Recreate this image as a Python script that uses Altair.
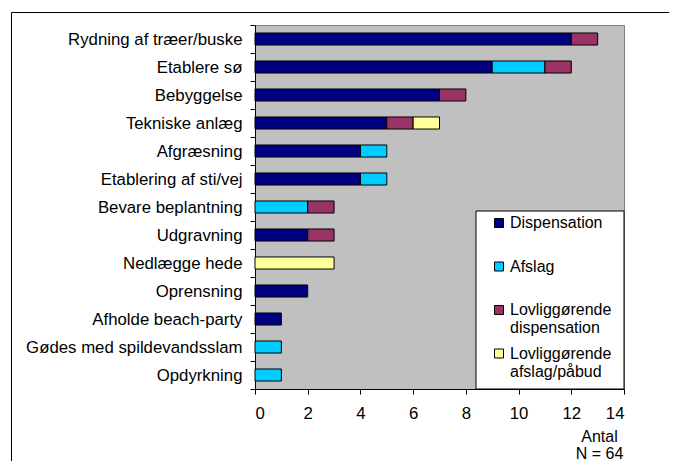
import altair as alt
import pandas as pd

categories = ["Rydning af træer/buske", "Etablere sø", "Bebyggelse", "Tekniske anlæg",
              "Afgræsning", "Etablering af sti/vej", "Bevare beplantning", "Udgravning",
              "Nedlægge hede", "Oprensning", "Afholde beach-party",
              "Gødes med spildevandsslam", "Opdyrkning"]
series = ["Dispensation", "Afslag", "Lovliggørende dispensation", "Lovliggørende afslag/påbud"]
dispensation = [12, 9, 7, 5, 4, 4, 0, 2, 0, 2, 1, 0, 0]
afslag = [0, 2, 0, 0, 1, 1, 2, 0, 0, 0, 0, 1, 1]
lovl_disp = [1, 1, 1, 1, 0, 0, 1, 1, 0, 0, 0, 0, 0]
lovl_afslag = [0, 0, 0, 1, 0, 0, 0, 0, 3, 0, 0, 0, 0]
colors = ["#000080", "#00CCFF", "#993366", "#FFFF99"]
x_ticks = [0, 2, 4, 6, 8, 10, 12, 14]

rows = []
for si, (name, vals) in enumerate(zip(series, [dispensation, afslag, lovl_disp, lovl_afslag])):
    for c, v in zip(categories, vals):
        if v > 0:
            rows.append({"kategori": c, "type": name, "antal": v, "ordning": si})
df = pd.DataFrame(rows)

FONT = "Liberation Sans"
FS = 16.8
LFS = 16
W, H = 369, 364

label_expr = ("datum.label == 'Dispensation' ? ['Dispensation', ''] : "
              "datum.label == 'Afslag' ? ['Afslag', ''] : split(datum.label, ' ')")

bars = alt.Chart(df).mark_bar(
    height={"band": 0.43}, stroke="black", strokeWidth=1
).encode(
    x=alt.X("antal:Q", stack="zero",
            scale=alt.Scale(domain=[0, 14], nice=False),
            axis=alt.Axis(values=x_ticks, grid=False, tickSize=5, tickColor="black",
                          domainColor="black", labelFont=FONT, labelFontSize=FS,
                          labelColor="black", labelPadding=11,
                          title=["Antal", "N = 64"], titleFont=FONT, titleFontSize=LFS,
                          titleFontWeight="normal", titleColor="black",
                          titleX=344, titleY=47, titleAlign="center",
                          titleBaseline="middle", titleLineHeight=17)),
    y=alt.Y("kategori:N", sort=categories,
            scale=alt.Scale(paddingInner=0, paddingOuter=0),
            axis=alt.Axis(title=None, grid=False, tickBand="extent", tickSize=5,
                          tickColor="black", domainColor="black", labelFont=FONT,
                          labelFontSize=FS, labelColor="black", labelPadding=8,
                          labelLimit=400)),
    color=alt.Color("type:N", scale=alt.Scale(domain=series, range=colors),
                    legend=alt.Legend(orient="none", legendX=236, legendY=190,
                                      title=None, symbolType="square", symbolSize=81,
                                      symbolStrokeColor="black", symbolStrokeWidth=1,
                                      labelFont=FONT, labelFontSize=LFS,
                                      labelColor="black", labelExpr=label_expr,
                                      labelOffset=3, rowPadding=9.5, padding=0,
                                      labelLimit=300)),
    order=alt.Order("ordning:Q"),
)

box_df = pd.DataFrame({"k": [1]})
legend_box = alt.Chart(box_df).mark_rect(fill="white", stroke="black", strokeWidth=1).encode(
    x=alt.value(221), x2=alt.value(369), y=alt.value(186), y2=alt.value(364)
)
frame = alt.Chart(box_df).mark_rect(fill="transparent", stroke="black", strokeWidth=1).encode(
    x=alt.value(-243.5), x2=alt.value(440), y=alt.value(-12.5), y2=alt.value(470)
)

chart = alt.layer(frame, legend_box, bars).properties(
    width=W, height=H,
    autosize=alt.AutoSizeParams(type="none"),
    padding={"left": 247, "top": 17, "right": 45, "bottom": 72},
    background="white",
).configure_view(
    fill="#C0C0C0", stroke="#808080", strokeWidth=1
)

chart.save("out.html", embed_options={"renderer": "svg", "actions": False})
